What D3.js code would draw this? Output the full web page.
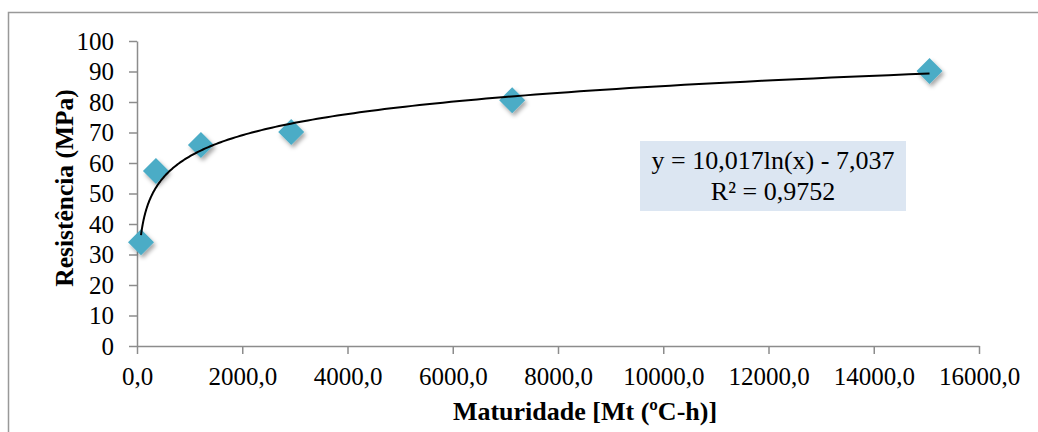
<!DOCTYPE html>
<html>
<head>
<meta charset="utf-8">
<script src="https://cdn.jsdelivr.net/npm/d3@7"></script>
<style>
    body { margin: 0; background: #fff; }
    text { font-family: "Liberation Serif", "Times New Roman", serif; fill: #000; }
</style>
</head>
<body>
<script>
// data
var maturity = [76, 360, 1215, 2930, 7130, 15060];
var strength = [34, 57.4, 65.9, 70.2, 80.6, 90.2];
var xTicks = [0, 2000, 4000, 6000, 8000, 10000, 12000, 14000, 16000];
var yTicks = [0, 10, 20, 30, 40, 50, 60, 70, 80, 90, 100];
var fitA = 10.017, fitB = -7.037;
var fitLabel = ["y = 10,017ln(x) - 7,037", "R² = 0,9752"];

var width = 1038, height = 432;
var margin = {left: 137, top: 41, right: 59, bottom: 86};

var svg = d3.select("body").append("svg")
    .attr("width", width)
    .attr("height", height);

// shadow for the markers
var filter = svg.append("defs").append("filter")
    .attr("id", "shadow")
    .attr("x", "-50%").attr("y", "-50%")
    .attr("width", "200%").attr("height", "200%");
filter.append("feDropShadow")
    .attr("dx", 2).attr("dy", 3)
    .attr("stdDeviation", 2)
    .attr("flood-color", "#000")
    .attr("flood-opacity", 0.35);

// outer frame (only top and left edges visible)
svg.append("path")
    .attr("d", "M8.5," + height + "V12.5H" + width)
    .attr("fill", "none")
    .attr("stroke", "#999")
    .attr("stroke-width", 1.5);

var x = d3.scaleLinear().domain([0, 16000]).range([margin.left, width - margin.right]);
var y = d3.scaleLinear().domain([0, 100]).range([height - margin.bottom, margin.top]);

var fmt = function (d) { return d3.format(".1f")(d).replace(".", ","); };

// x axis
var gx = svg.append("g")
    .attr("transform", "translate(0," + y(0) + ")")
    .call(d3.axisBottom(x).tickValues(xTicks).tickFormat(fmt).tickSizeInner(8).tickSizeOuter(0));
gx.selectAll("text")
    .attr("y", 39)
    .attr("dy", 0)
    .style("font-size", "25px");

// y axis
var gy = svg.append("g")
    .attr("transform", "translate(" + x(0) + ",0)")
    .call(d3.axisLeft(y).tickValues(yTicks).tickSizeInner(8).tickSizeOuter(0).tickPadding(15));
gy.selectAll("text").style("font-size", "25px");

svg.selectAll(".domain, .tick line")
    .attr("stroke", "#8c8c8c")
    .attr("stroke-width", 1.5);

// trendline points between smallest and largest maturity
var xmin = d3.min(maturity), xmax = d3.max(maturity);
var steps = d3.range(0, 201).map(function (i) {
    return xmin * Math.pow(xmax / xmin, i / 200);
});
var trend = d3.line()
    .x(function (d) { return x(d); })
    .y(function (d) { return y(fitA * Math.log(d) + fitB); });

// markers
svg.selectAll(".pt")
    .data(maturity)
    .enter().append("path")
    .attr("class", "pt")
    .attr("d", "M0,-13L13,0L0,13L-13,0Z")
    .attr("fill", "#4bacc6")
    .attr("filter", "url(#shadow)")
    .attr("transform", function (d, i) {
        return "translate(" + x(d) + "," + y(strength[i]) + ")";
    });

// line goes on top of the markers
svg.append("path")
    .datum(steps)
    .attr("fill", "none")
    .attr("stroke", "#000")
    .attr("stroke-width", 2)
    .attr("d", trend);

// equation box
svg.append("rect")
    .attr("x", 640).attr("y", 141)
    .attr("width", 266).attr("height", 70)
    .attr("fill", "#dce6f2");
svg.selectAll(".eq")
    .data(fitLabel)
    .enter().append("text")
    .attr("class", "eq")
    .attr("x", 773)
    .attr("y", function (d, i) { return 169 + i * 31; })
    .attr("text-anchor", "middle")
    .style("font-size", "26px")
    .text(function (d) { return d; });

// axis titles
svg.append("text")
    .attr("x", (x(0) + x(16000)) / 2 + 27)
    .attr("y", 420)
    .attr("text-anchor", "middle")
    .style("font-size", "26px")
    .style("font-weight", "bold")
    .text("Maturidade [Mt (ºC-h)]");

svg.append("text")
    .attr("transform", "translate(73,188) rotate(-90)")
    .attr("text-anchor", "middle")
    .style("font-size", "25.5px")
    .style("font-weight", "bold")
    .text("Resistência (MPa)");
</script>
</body>
</html>
